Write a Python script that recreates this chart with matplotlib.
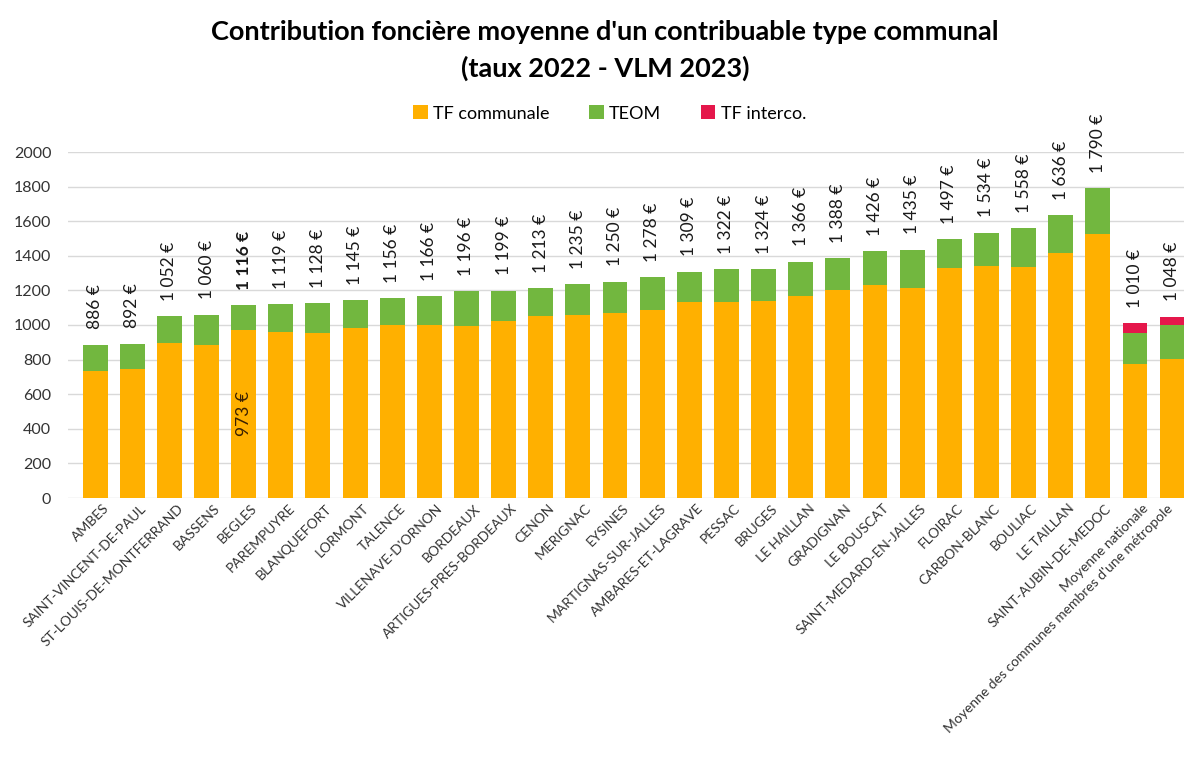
import numpy as np
import matplotlib.pyplot as plt

plt.rcParams['font.family'] = ['Lato', 'DejaVu Sans']

communes = ["AMBES", "SAINT-VINCENT-DE-PAUL", "ST-LOUIS-DE-MONTFERRAND", "BASSENS",
            "BEGLES", "PAREMPUYRE", "BLANQUEFORT", "LORMONT", "TALENCE",
            "VILLENAVE-D'ORNON", "BORDEAUX", "ARTIGUES-PRES-BORDEAUX", "CENON",
            "MERIGNAC", "EYSINES", "MARTIGNAS-SUR-JALLES", "AMBARES-ET-LAGRAVE",
            "PESSAC", "BRUGES", "LE HAILLAN", "GRADIGNAN", "LE BOUSCAT",
            "SAINT-MEDARD-EN-JALLES", "FLOIRAC", "CARBON-BLANC", "BOULIAC",
            "LE TAILLAN", "SAINT-AUBIN-DE-MEDOC", "Moyenne nationale",
            "Moyenne des communes membres d'une métropole"]

tf_communale = [733, 743, 894, 882, 973, 959, 952, 985, 998, 998,
                994, 1023, 1052, 1056, 1071, 1087, 1133, 1133, 1137, 1168,
                1200, 1233, 1212, 1331, 1342, 1337, 1414, 1525, 776, 801]
totals = [886, 892, 1052, 1060, 1116, 1119, 1128, 1145, 1156, 1166,
          1196, 1199, 1213, 1235, 1250, 1278, 1309, 1322, 1324, 1366,
          1388, 1426, 1435, 1497, 1534, 1558, 1636, 1790, 1010, 1048]
tf_interco = [0] * 28 + [58, 50]

tf_communale = np.array(tf_communale)
totals = np.array(totals)
tf_interco = np.array(tf_interco)
teom = totals - tf_communale - tf_interco

orange = '#FFB000'
green = '#72B73F'
red = '#E5174B'

fig = plt.figure(figsize=(11.84, 7.72), dpi=100)
ax = fig.add_axes([68 / 1184, 274 / 772, 1116 / 1184, 346 / 772])

x = np.arange(len(communes))
w = 0.67
ax.bar(x, tf_communale, w, color=orange, label='TF communale', zorder=2)
ax.bar(x, teom, w, bottom=tf_communale, color=green, label='TEOM', zorder=2)
ax.bar(x, tf_interco, w, bottom=tf_communale + teom, color=red, label='TF interco.', zorder=2)

def fmt(v):
    s = f"{v:,}".replace(",", " ")
    return s + " €"

for i, t in enumerate(totals):
    ax.annotate(fmt(t), (x[i], t), xytext=(0, 11), textcoords='offset points',
                rotation=90, ha='center', va='bottom', fontsize=12.5,
                color='#1a1a1a', annotation_clip=False,
                fontweight='bold' if i == 4 else 'normal')

# TF communale value shown inside the BEGLES bar
ax.text(x[4], tf_communale[4] / 2, fmt(tf_communale[4]), rotation=90,
        ha='center', va='center', fontsize=12.5, color='#3a2000')

ax.set_xlim(-0.73, 29.32)
ax.set_ylim(0, 2000)
ax.set_yticks(np.arange(0, 2001, 200))
ax.yaxis.grid(True, color='#d9d9d9', linewidth=1, zorder=0)
ax.set_axisbelow(True)
for s in ax.spines.values():
    s.set_visible(False)
ax.tick_params(axis='y', length=0, pad=12, labelsize=11.5, labelcolor='#333333')
ax.tick_params(axis='x', length=0, pad=3)

# labels sit a little right of the bar centre, the last one stays inside the figure
shift = np.full(len(x), 0.2)
shift[-1] = -0.15
ax.set_xticks(x + shift)
ax.set_xticklabels(communes, rotation=45, ha='right', rotation_mode='anchor',
                   fontsize=10, color='#333333')

fig.text(0.511, 0.958, "Contribution foncière moyenne d'un contribuable type communal",
         ha='center', va='center', fontsize=19.5, fontweight='bold')
fig.text(0.511, 0.911, "(taux 2022 - VLM 2023)",
         ha='center', va='center', fontsize=19.5, fontweight='bold')

fig.legend(loc='center', bbox_to_anchor=(0.515, 0.853), ncol=3, frameon=False,
           fontsize=13, handlelength=0.8, handleheight=0.8, handletextpad=0.3,
           columnspacing=2.2)

fig.savefig('out.png', dpi=100)
